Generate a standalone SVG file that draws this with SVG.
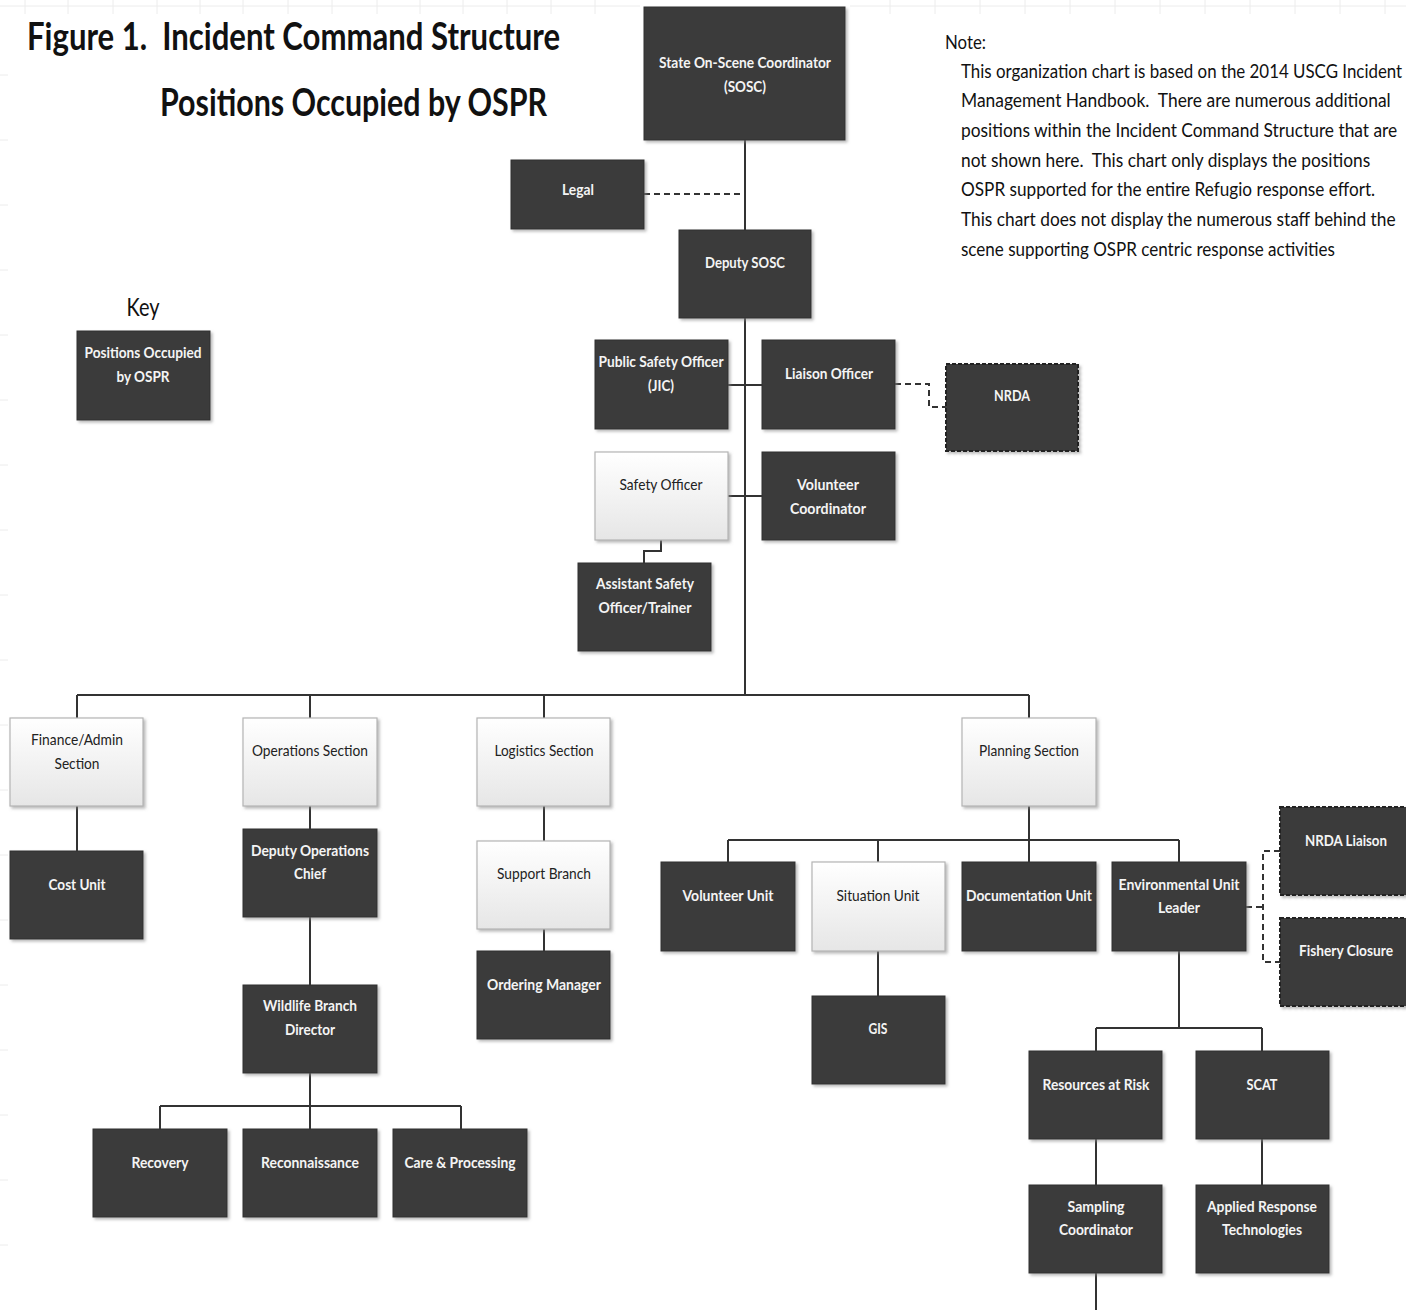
<svg xmlns="http://www.w3.org/2000/svg" width="1406" height="1310" viewBox="0 0 1406 1310">
<style>
.dk{fill:#3a3a3a;stroke:#2e2e2e;stroke-width:1;filter:url(#sh)}
.lt{fill:url(#lg);stroke:#b4b4b4;stroke-width:1.2;filter:url(#sh)}
.ds{fill:#3a3a3a;stroke:#222;stroke-width:2;stroke-dasharray:4 2;filter:url(#sh)}
.tw{font-family:Lato,"Open Sans",sans-serif;font-size:16px;font-weight:bold;fill:#f4f4f4;text-anchor:middle}
.tb{font-family:Lato,"Open Sans",sans-serif;font-size:16px;fill:#222;text-anchor:middle}
.note{font-family:Lato,"Open Sans",sans-serif;font-size:20px;fill:#111;white-space:pre}
.title{font-family:Lato,"Open Sans",sans-serif;font-size:38px;font-weight:bold;fill:#111;white-space:pre}
.ln{fill:none;stroke:#333;stroke-width:2}
.dl{fill:none;stroke:#333;stroke-width:2;stroke-dasharray:6 4}
.grid{stroke:#ececec;stroke-width:1;fill:none}
</style>
<defs>
<linearGradient id="lg" x1="0" y1="0" x2="0" y2="1">
<stop offset="0" stop-color="#ffffff"/>
<stop offset="1" stop-color="#e6e6e6"/>
</linearGradient>
<filter id="sh" x="-10%" y="-10%" width="130%" height="130%">
<feDropShadow dx="2" dy="2" stdDeviation="1.5" flood-color="#888" flood-opacity="0.6"/>
</filter>
</defs>
<rect width="1406" height="1310" fill="#ffffff"/>
<g id="gridlines" class="grid">
<path d="M0 6H640M850 6H1406"/>
<path d="M25 0V14M68 0V14M113 0V14M157 0V14M200 0V14M243 0V14M288 0V14M332 0V14M377 0V14M420 0V14M463 0V14M507 0V14M551 0V14M595 0V14M890 0V14M935 0V14M980 0V14M1025 0V14M1070 0V14M1115 0V14M1160 0V14M1205 0V14M1250 0V14M1295 0V14M1340 0V14M1385 0V14"/>
<path d="M0 75H8M0 140H8M0 205H8M0 270H8M0 335H8M0 400H8M0 465H8M0 530H8M0 595H8M0 660H8M0 725H8M0 790H8M0 855H8M0 920H8M0 985H8M0 1050H8M0 1115H8M0 1180H8M0 1245H8"/>
</g>
<g id="title">
<text class="title" x="27" y="50" textLength="533" lengthAdjust="spacingAndGlyphs">Figure 1.  Incident Command Structure</text>
<text class="title" x="160" y="116" textLength="387" lengthAdjust="spacingAndGlyphs">Positions Occupied by OSPR</text>
</g>
<g id="note">
<text class="note" x="945" y="49" textLength="41" lengthAdjust="spacingAndGlyphs">Note:</text>
<g transform="translate(961 0) scale(0.82 1)">
<text class="note" x="0" y="78" textLength="538" lengthAdjust="spacingAndGlyphs">This organization chart is based on the 2014 USCG Incident</text>
<text class="note" x="0" y="107" textLength="524" lengthAdjust="spacingAndGlyphs">Management Handbook.  There are numerous additional</text>
<text class="note" x="0" y="137" textLength="532" lengthAdjust="spacingAndGlyphs">positions within the Incident Command Structure that are</text>
<text class="note" x="0" y="167" textLength="499" lengthAdjust="spacingAndGlyphs">not shown here.  This chart only displays the positions</text>
<text class="note" x="0" y="196" textLength="505" lengthAdjust="spacingAndGlyphs">OSPR supported for the entire Refugio response effort.</text>
<text class="note" x="0" y="226" textLength="530" lengthAdjust="spacingAndGlyphs">This chart does not display the numerous staff behind the</text>
<text class="note" x="0" y="256" textLength="456" lengthAdjust="spacingAndGlyphs">scene supporting OSPR centric response activities</text>
</g>
</g>
<g id="connectors">
<path class="ln" d="M745 140V695"/>
<path class="dl" d="M644 194H745"/>
<path class="ln" d="M728 385H762"/>
<path class="dl" d="M895 384H929V407H946"/>
<path class="ln" d="M728 496H762"/>
<path class="ln" d="M661 540V551H644V563"/>
<path class="ln" d="M77 695H1029M77 695V718M310 695V718M544 695V718M1029 695V718"/>
<path class="ln" d="M77 806V851"/>
<path class="ln" d="M310 806V829M310 917V985M310 1073V1129M160 1106H461M160 1106V1129M461 1106V1129"/>
<path class="ln" d="M544 806V841M544 929V951"/>
<path class="ln" d="M1029 806V862M728 840H1179M728 840V862M878 840V862M1179 840V862"/>
<path class="ln" d="M878 951V996"/>
<path class="ln" d="M1179 951V1028M1096 1028H1262M1096 1028V1051M1262 1028V1051"/>
<path class="ln" d="M1096 1139V1185M1262 1139V1185M1096 1273V1310"/>
<path class="dl" d="M1246 907H1263M1280 851H1263V962H1280"/>
</g>
<g id="key">
<text x="143" y="316" font-family="Lato,'Open Sans',sans-serif" font-size="25" fill="#111" text-anchor="middle" textLength="33" lengthAdjust="spacingAndGlyphs">Key</text>
<rect class="dk" x="77" y="331" width="133" height="89"/>
<text class="tw" x="143" y="358" textLength="117" lengthAdjust="spacingAndGlyphs">Positions Occupied</text>
<text class="tw" x="143" y="382" textLength="53" lengthAdjust="spacingAndGlyphs">by OSPR</text>
</g>
<g id="sosc"><rect class="dk" x="644" y="7" width="201" height="133"/>
<text class="tw" x="745" y="68" textLength="172" lengthAdjust="spacingAndGlyphs">State On-Scene Coordinator</text>
<text class="tw" x="745" y="92" textLength="42" lengthAdjust="spacingAndGlyphs">(SOSC)</text></g>
<g id="legal"><rect class="dk" x="511" y="160" width="133" height="69"/>
<text class="tw" x="578" y="195" textLength="32" lengthAdjust="spacingAndGlyphs">Legal</text></g>
<g id="deputy-sosc"><rect class="dk" x="679" y="230" width="132" height="88"/>
<text class="tw" x="745" y="268" textLength="80" lengthAdjust="spacingAndGlyphs">Deputy SOSC</text></g>
<g id="public-safety"><rect class="dk" x="595" y="340" width="133" height="89"/>
<text class="tw" x="661" y="367" textLength="125" lengthAdjust="spacingAndGlyphs">Public Safety Officer</text>
<text class="tw" x="661" y="391" textLength="26" lengthAdjust="spacingAndGlyphs">(JIC)</text></g>
<g id="liaison"><rect class="dk" x="762" y="340" width="133" height="89"/>
<text class="tw" x="829" y="379" textLength="88" lengthAdjust="spacingAndGlyphs">Liaison Officer</text></g>
<g id="nrda"><rect class="ds" x="946" y="364" width="132" height="87"/>
<text class="tw" x="1012" y="401" textLength="36" lengthAdjust="spacingAndGlyphs">NRDA</text></g>
<g id="safety-officer"><rect class="lt" x="595" y="452" width="133" height="88"/>
<text class="tb" x="661" y="490" textLength="83" lengthAdjust="spacingAndGlyphs">Safety Officer</text></g>
<g id="volunteer-coordinator"><rect class="dk" x="762" y="452" width="133" height="88"/>
<text class="tw" x="828" y="490" textLength="62" lengthAdjust="spacingAndGlyphs">Volunteer</text>
<text class="tw" x="828" y="514" textLength="76" lengthAdjust="spacingAndGlyphs">Coordinator</text></g>
<g id="assistant-safety"><rect class="dk" x="578" y="563" width="133" height="88"/>
<text class="tw" x="645" y="589" textLength="98" lengthAdjust="spacingAndGlyphs">Assistant Safety</text>
<text class="tw" x="645" y="613" textLength="93" lengthAdjust="spacingAndGlyphs">Officer/Trainer</text></g>
<g id="finance"><rect class="lt" x="10" y="718" width="133" height="88"/>
<text class="tb" x="77" y="745" textLength="92" lengthAdjust="spacingAndGlyphs">Finance/Admin</text>
<text class="tb" x="77" y="769" textLength="45" lengthAdjust="spacingAndGlyphs">Section</text></g>
<g id="operations"><rect class="lt" x="243" y="718" width="134" height="88"/>
<text class="tb" x="310" y="756" textLength="116" lengthAdjust="spacingAndGlyphs">Operations Section</text></g>
<g id="logistics"><rect class="lt" x="477" y="718" width="133" height="88"/>
<text class="tb" x="544" y="756" textLength="99" lengthAdjust="spacingAndGlyphs">Logistics Section</text></g>
<g id="planning"><rect class="lt" x="962" y="718" width="134" height="88"/>
<text class="tb" x="1029" y="756" textLength="100" lengthAdjust="spacingAndGlyphs">Planning Section</text></g>
<g id="cost-unit"><rect class="dk" x="10" y="851" width="133" height="88"/>
<text class="tw" x="77" y="890" textLength="57" lengthAdjust="spacingAndGlyphs">Cost Unit</text></g>
<g id="deputy-ops"><rect class="dk" x="243" y="829" width="134" height="88"/>
<text class="tw" x="310" y="856" textLength="118" lengthAdjust="spacingAndGlyphs">Deputy Operations</text>
<text class="tw" x="310" y="879" textLength="32" lengthAdjust="spacingAndGlyphs">Chief</text></g>
<g id="support-branch"><rect class="lt" x="477" y="841" width="133" height="88"/>
<text class="tb" x="544" y="879" textLength="94" lengthAdjust="spacingAndGlyphs">Support Branch</text></g>
<g id="ordering"><rect class="dk" x="477" y="951" width="133" height="88"/>
<text class="tw" x="544" y="990" textLength="114" lengthAdjust="spacingAndGlyphs">Ordering Manager</text></g>
<g id="wildlife"><rect class="dk" x="243" y="985" width="134" height="88"/>
<text class="tw" x="310" y="1011" textLength="94" lengthAdjust="spacingAndGlyphs">Wildlife Branch</text>
<text class="tw" x="310" y="1035" textLength="50" lengthAdjust="spacingAndGlyphs">Director</text></g>
<g id="recovery"><rect class="dk" x="93" y="1129" width="134" height="88"/>
<text class="tw" x="160" y="1168" textLength="57" lengthAdjust="spacingAndGlyphs">Recovery</text></g>
<g id="reconnaissance"><rect class="dk" x="243" y="1129" width="134" height="88"/>
<text class="tw" x="310" y="1168" textLength="98" lengthAdjust="spacingAndGlyphs">Reconnaissance</text></g>
<g id="care"><rect class="dk" x="393" y="1129" width="134" height="88"/>
<text class="tw" x="460" y="1168" textLength="111" lengthAdjust="spacingAndGlyphs">Care &amp; Processing</text></g>
<g id="volunteer-unit"><rect class="dk" x="661" y="862" width="134" height="89"/>
<text class="tw" x="728" y="901" textLength="91" lengthAdjust="spacingAndGlyphs">Volunteer Unit</text></g>
<g id="situation-unit"><rect class="lt" x="812" y="862" width="133" height="89"/>
<text class="tb" x="878" y="901" textLength="83" lengthAdjust="spacingAndGlyphs">Situation Unit</text></g>
<g id="documentation-unit"><rect class="dk" x="962" y="862" width="134" height="89"/>
<text class="tw" x="1029" y="901" textLength="126" lengthAdjust="spacingAndGlyphs">Documentation Unit</text></g>
<g id="environmental"><rect class="dk" x="1112" y="862" width="134" height="89"/>
<text class="tw" x="1179" y="890" textLength="121" lengthAdjust="spacingAndGlyphs">Environmental Unit</text>
<text class="tw" x="1179" y="913" textLength="42" lengthAdjust="spacingAndGlyphs">Leader</text></g>
<g id="nrda-liaison"><rect class="ds" x="1280" y="807" width="132" height="88"/>
<text class="tw" x="1346" y="846" textLength="82" lengthAdjust="spacingAndGlyphs">NRDA Liaison</text></g>
<g id="fishery"><rect class="ds" x="1280" y="918" width="132" height="88"/>
<text class="tw" x="1346" y="956" textLength="94" lengthAdjust="spacingAndGlyphs">Fishery Closure</text></g>
<g id="gis"><rect class="dk" x="812" y="996" width="133" height="88"/>
<text class="tw" x="878" y="1034" textLength="19" lengthAdjust="spacingAndGlyphs">GIS</text></g>
<g id="resources"><rect class="dk" x="1029" y="1051" width="133" height="88"/>
<text class="tw" x="1096" y="1090" textLength="107" lengthAdjust="spacingAndGlyphs">Resources at Risk</text></g>
<g id="scat"><rect class="dk" x="1196" y="1051" width="133" height="88"/>
<text class="tw" x="1262" y="1090" textLength="31" lengthAdjust="spacingAndGlyphs">SCAT</text></g>
<g id="sampling"><rect class="dk" x="1029" y="1185" width="133" height="88"/>
<text class="tw" x="1096" y="1212" textLength="57" lengthAdjust="spacingAndGlyphs">Sampling</text>
<text class="tw" x="1096" y="1235" textLength="74" lengthAdjust="spacingAndGlyphs">Coordinator</text></g>
<g id="art"><rect class="dk" x="1196" y="1185" width="133" height="88"/>
<text class="tw" x="1262" y="1212" textLength="110" lengthAdjust="spacingAndGlyphs">Applied Response</text>
<text class="tw" x="1262" y="1235" textLength="80" lengthAdjust="spacingAndGlyphs">Technologies</text></g>
</svg>
